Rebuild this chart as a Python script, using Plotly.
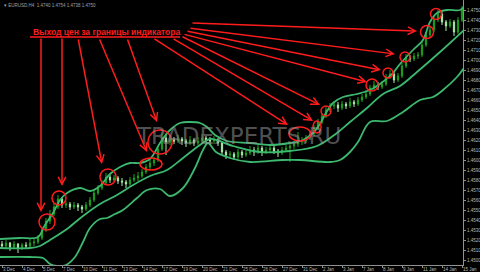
import plotly.graph_objects as go

# ---- candle data (H4 bars) ----
bars = list(range(116))
opens = [
    1.4516, 1.4514, 1.4517, 1.4513, 1.4516, 1.4512, 1.4515, 1.4514, 1.4517, 1.4518,
    1.4522, 1.4530, 1.4539, 1.4546, 1.4553, 1.4561, 1.4555, 1.4556, 1.4553, 1.4555,
    1.4553, 1.4551, 1.4555, 1.4560, 1.4567, 1.4572, 1.4577, 1.4583, 1.4580, 1.4582,
    1.4579, 1.4578, 1.4576, 1.4580, 1.4582, 1.4584, 1.4588, 1.4593, 1.4597, 1.4600,
    1.4611, 1.4622, 1.4618, 1.4620, 1.4619, 1.4621, 1.4619, 1.4617, 1.4620, 1.4617,
    1.4619, 1.4622, 1.4620, 1.4619, 1.4620, 1.4617, 1.4608, 1.4605, 1.4606, 1.4603,
    1.4608, 1.4605, 1.4607, 1.4610, 1.4608, 1.4612, 1.4608, 1.4610, 1.4612, 1.4609,
    1.4607, 1.4610, 1.4612, 1.4614, 1.4616, 1.4618, 1.4619, 1.4622, 1.4626, 1.4632,
    1.4638, 1.4644, 1.4650, 1.4654, 1.4655, 1.4652, 1.4656, 1.4654, 1.4658, 1.4656,
    1.4660, 1.4663, 1.4666, 1.4672, 1.4675, 1.4673, 1.4676, 1.4683, 1.4686, 1.4680,
    1.4684, 1.4694, 1.4702, 1.4701, 1.4704, 1.4705, 1.4715, 1.4725, 1.4730, 1.4740,
    1.4746, 1.4738, 1.4734, 1.4738, 1.4728, 1.4740]
highs = [
    1.4519, 1.4520, 1.4518, 1.4519, 1.4517, 1.4517, 1.4518, 1.4521, 1.4522, 1.4525,
    1.4533, 1.4542, 1.4550, 1.4557, 1.4565, 1.4563, 1.4559, 1.4558, 1.4558, 1.4557,
    1.4555, 1.4558, 1.4563, 1.4570, 1.4575, 1.4580, 1.4587, 1.4585, 1.4585, 1.4584,
    1.4582, 1.4580, 1.4583, 1.4586, 1.4588, 1.4591, 1.4596, 1.4600, 1.4603, 1.4614,
    1.4628, 1.4625, 1.4624, 1.4623, 1.4625, 1.4623, 1.4621, 1.4624, 1.4622, 1.4623,
    1.4626, 1.4624, 1.4623, 1.4624, 1.4622, 1.4619, 1.4610, 1.4609, 1.4608, 1.4611,
    1.4610, 1.4611, 1.4614, 1.4613, 1.4616, 1.4614, 1.4613, 1.4616, 1.4614, 1.4611,
    1.4613, 1.4615, 1.4617, 1.4619, 1.4628, 1.4623, 1.4625, 1.4629, 1.4635, 1.4641,
    1.4647, 1.4654, 1.4657, 1.4659, 1.4658, 1.4659, 1.4658, 1.4662, 1.4660, 1.4663,
    1.4666, 1.4670, 1.4675, 1.4679, 1.4678, 1.4679, 1.4686, 1.4690, 1.4688, 1.4687,
    1.4697, 1.4706, 1.4705, 1.4707, 1.4708, 1.4718, 1.4728, 1.4734, 1.4743, 1.4750,
    1.4748, 1.4740, 1.4741, 1.4740, 1.4743, 1.4754]
lows = [
    1.4511, 1.4512, 1.4509, 1.4511, 1.4507, 1.4510, 1.4511, 1.4512, 1.4514, 1.4516,
    1.4520, 1.4528, 1.4536, 1.4544, 1.4551, 1.4552, 1.4552, 1.4550, 1.4551, 1.4549,
    1.4547, 1.4549, 1.4553, 1.4558, 1.4565, 1.4570, 1.4575, 1.4577, 1.4578, 1.4576,
    1.4574, 1.4572, 1.4574, 1.4578, 1.4579, 1.4582, 1.4586, 1.4590, 1.4594, 1.4598,
    1.4609, 1.4605, 1.4615, 1.4616, 1.4617, 1.4615, 1.4613, 1.4615, 1.4614, 1.4615,
    1.4617, 1.4617, 1.4616, 1.4616, 1.4614, 1.4605, 1.4601, 1.4602, 1.4600, 1.4601,
    1.4602, 1.4603, 1.4605, 1.4604, 1.4606, 1.4604, 1.4606, 1.4608, 1.4606, 1.4603,
    1.4605, 1.4608, 1.4598, 1.4611, 1.4613, 1.4615, 1.4617, 1.4620, 1.4624, 1.4630,
    1.4636, 1.4642, 1.4648, 1.4651, 1.4648, 1.4650, 1.4651, 1.4652, 1.4653, 1.4654,
    1.4658, 1.4661, 1.4664, 1.4670, 1.4670, 1.4671, 1.4674, 1.4681, 1.4677, 1.4678,
    1.4682, 1.4692, 1.4698, 1.4699, 1.4701, 1.4703, 1.4713, 1.4722, 1.4728, 1.4738,
    1.4735, 1.4729, 1.4732, 1.4724, 1.4726, 1.4738]
closes = [
    1.4514, 1.4517, 1.4513, 1.4516, 1.4512, 1.4515, 1.4514, 1.4517, 1.4518, 1.4522,
    1.4530, 1.4539, 1.4546, 1.4553, 1.4561, 1.4555, 1.4556, 1.4553, 1.4555, 1.4553,
    1.4551, 1.4555, 1.4560, 1.4567, 1.4572, 1.4577, 1.4583, 1.4580, 1.4582, 1.4579,
    1.4578, 1.4576, 1.4580, 1.4582, 1.4584, 1.4588, 1.4593, 1.4597, 1.4600, 1.4611,
    1.4622, 1.4618, 1.4620, 1.4619, 1.4621, 1.4619, 1.4617, 1.4620, 1.4617, 1.4619,
    1.4622, 1.4620, 1.4619, 1.4620, 1.4617, 1.4608, 1.4605, 1.4606, 1.4603, 1.4608,
    1.4605, 1.4607, 1.4610, 1.4608, 1.4612, 1.4608, 1.4610, 1.4612, 1.4609, 1.4607,
    1.4610, 1.4612, 1.4614, 1.4616, 1.4618, 1.4619, 1.4622, 1.4626, 1.4632, 1.4638,
    1.4644, 1.4650, 1.4654, 1.4655, 1.4652, 1.4656, 1.4654, 1.4658, 1.4656, 1.4660,
    1.4663, 1.4666, 1.4672, 1.4675, 1.4673, 1.4676, 1.4683, 1.4686, 1.4680, 1.4684,
    1.4694, 1.4702, 1.4701, 1.4704, 1.4705, 1.4715, 1.4725, 1.4730, 1.4740, 1.4746,
    1.4738, 1.4734, 1.4738, 1.4728, 1.4740, 1.4750]

# ---- indicator band lines (bar position, price) ----
upper_x = [-0.5, 4.5, 9, 10.75, 12.75, 14.5, 16.25, 19.5, 22, 24.5,
           27, 29.5, 32, 34.5, 37, 39.5, 42, 44.5, 47, 49.5,
           51.25, 53.25, 56.25, 62, 67, 72, 75.25, 77.75, 79.5, 81,
           82.75, 85.25, 88.75, 92, 94.5, 97.75, 99.5, 102.75, 105.25, 107,
           108.75, 111.25, 114.5, 115.5]
upper_y = [1.4521, 1.4522, 1.4523, 1.4535, 1.4547, 1.4560, 1.4567, 1.4572, 1.4569, 1.4574,
           1.4586, 1.4593, 1.4597, 1.4597, 1.4601, 1.4617, 1.4630, 1.4637, 1.4638, 1.4637,
           1.4633, 1.4625, 1.4619, 1.4617, 1.4615, 1.4617, 1.4620, 1.4627, 1.4636, 1.4647,
           1.4657, 1.4663, 1.4666, 1.4670, 1.4676, 1.4687, 1.4696, 1.4710, 1.4720, 1.4738,
           1.4747, 1.4750, 1.4750, 1.4753]
middle_x = [-0.5, 7, 9.5, 12, 16.25, 20.25, 24.5, 28.75, 32.75, 37,
            41.25, 45.25, 49.5, 52, 57.75, 64.5, 72, 78.75, 83.75, 87,
            91.25, 95.25, 99.5, 103.75, 109.5, 115.5]
middle_y = [1.4512, 1.4512, 1.4514, 1.4520, 1.4531, 1.4544, 1.4556, 1.4565, 1.4575, 1.4584,
            1.4590, 1.4602, 1.4615, 1.4621, 1.4614, 1.4608, 1.4609, 1.4614, 1.4627, 1.4638,
            1.4652, 1.4666, 1.4674, 1.4688, 1.4708, 1.4730]
lower_x = [-0.5, 7, 10.25, 12, 14, 16, 18.25, 20.25, 22, 24.5,
           26.25, 28.25, 30.25, 33.75, 36.25, 39.5, 42, 45.25, 48.25, 50.25,
           51.5, 53.5, 57, 62, 70.25, 74.5, 82, 84.5, 87, 89,
           92, 96.25, 100.25, 104.5, 107.75, 110.25, 113.75, 115.5]
lower_y = [1.4503, 1.4503, 1.4502, 1.4496, 1.4494, 1.4495, 1.4503, 1.4518, 1.4532, 1.4541,
           1.4542, 1.4546, 1.4550, 1.4562, 1.4570, 1.4571, 1.4564, 1.4572, 1.4592, 1.4610,
           1.4617, 1.4608, 1.4602, 1.4598, 1.4600, 1.4600, 1.4598, 1.4600, 1.4608, 1.4618,
           1.4638, 1.4639, 1.4648, 1.4660, 1.4663, 1.4670, 1.4683, 1.4692]

# ---- axis labels ----
price_ticks = [1.4750, 1.4740, 1.4730, 1.4720, 1.4710, 1.4700, 1.4690, 1.4680, 1.4670,
               1.4660, 1.4650, 1.4640, 1.4630, 1.4620, 1.4610, 1.4600, 1.4590, 1.4580,
               1.4570, 1.4560, 1.4550, 1.4540, 1.4530, 1.4520, 1.4510, 1.4500]
date_labels = ["3 Dec", "4 Dec", "5 Dec", "7 Dec", "10 Dec",
               "11 Dec", "13 Dec", "14 Dec", "17 Dec", "19 Dec",
               "20 Dec", "21 Dec", "25 Dec", "26 Dec", "27 Dec",
               "31 Dec", "2 Jan", "3 Jan", "7 Jan", "8 Jan",
               "9 Jan", "11 Jan", "14 Jan", "15 Jan"]
date_bars = list(range(0, 116, 5))

# ---- annotation geometry (bar, price) ----
title_text = "Выход цен за границы индикатора"
arrows = [  # (start bar, start price, tip bar, tip price)
    (9.75, 1.4723, 9.75, 1.4548),
    (15.0, 1.4723, 15.0, 1.4574),
    (19.0, 1.4722, 25.0, 1.4596),
    (24.25, 1.4722, 36.25, 1.4608),
    (31.25, 1.4722, 38.75, 1.4638),
    (37.75, 1.4722, 71.5, 1.4635),
    (42.5, 1.4722, 77.75, 1.4639),
    (44.75, 1.4724, 79.5, 1.4655),
    (45.25, 1.4726, 91.25, 1.4678),
    (46.0, 1.4729, 94.75, 1.4690),
    (46.75, 1.4732, 98.25, 1.4706),
    (47.25, 1.4737, 103.75, 1.4729),
]
circles = [  # (bar, price, rx px, ry px)
    (11.25, 1.4538, 8, 8), (14.25, 1.4562, 7, 7), (26.5, 1.4583, 8, 8),
    (37.25, 1.4596, 11, 6), (39.5, 1.4618, 12, 12), (74.5, 1.4626, 11, 7),
    (78.75, 1.4633, 4, 6), (81, 1.4649, 5, 5), (92.5, 1.4675, 6, 6),
    (96.5, 1.4687, 5, 5), (100.75, 1.4703, 5, 5), (106.25, 1.4728, 6.5, 6.5),
    (108.5, 1.4746, 5.5, 5.5),
]

PX_PER_BAR = 4.0
PRICE_PER_PX = 0.0001
RED = "#ff1c1c"
BAND = "#3cb96e"

fig = go.Figure()
fig.add_trace(go.Candlestick(
    x=bars, open=opens, high=highs, low=lows, close=closes,
    increasing=dict(line=dict(color="#1f9f1f", width=1), fillcolor="#1f9f1f"),
    decreasing=dict(line=dict(color="#a8e8a8", width=1), fillcolor="#eaffea"),
    whiskerwidth=0, showlegend=False, hoverinfo="skip"))
for bx, by in ((upper_x, upper_y), (middle_x, middle_y), (lower_x, lower_y)):
    fig.add_trace(go.Scatter(x=bx, y=by, mode="lines",
                             line=dict(color=BAND, width=1.8, shape="spline", smoothing=1),
                             showlegend=False, hoverinfo="skip"))

shapes = []
for cx, cy, rx, ry in circles:
    shapes.append(dict(type="circle", xref="x", yref="y",
                       x0=cx - rx / PX_PER_BAR, x1=cx + rx / PX_PER_BAR,
                       y0=cy - ry * PRICE_PER_PX, y1=cy + ry * PRICE_PER_PX,
                       line=dict(color=RED, width=1.5)))
shapes.append(dict(type="line", xref="x", yref="y", x0=7, x1=44.5, y0=1.4723, y1=1.4723,
                   line=dict(color=RED, width=1.5)))

annotations = []
annotations.append(dict(x=59, y=1.4624, xref="x", yref="y", text="TRADEXPERTS.RU",
                        showarrow=False,
                        font=dict(family="DejaVu Sans", size=23, color="rgba(150,150,150,0.55)")))
for sx, sy, tx, ty in arrows:
    annotations.append(dict(x=tx, y=ty, ax=sx, ay=sy, xref="x", yref="y",
                            axref="x", ayref="y", text="", showarrow=True,
                            arrowhead=5, arrowsize=1.0, arrowwidth=1.5, arrowcolor=RED))
annotations.append(dict(x=26, y=1.4728, xref="x", yref="y", text="<b>" + title_text + "</b>",
                        showarrow=False,
                        font=dict(family="Liberation Sans, Arial", size=8.5, color=RED)))
annotations.append(dict(x=0.004, y=0.998, xref="paper", yref="paper", xanchor="left",
                        yanchor="top", showarrow=False,
                        text="▾ EURUSD,H4  1.4740 1.4754 1.4738 1.4750",
                        font=dict(family="Liberation Sans, Arial", size=4.5, color="#a0a0a0")))

fig.update_layout(
    width=480, height=272,
    margin=dict(l=0, r=17, t=0, b=7, autoexpand=False),
    paper_bgcolor="black", plot_bgcolor="black",
    boxgap=0.55,
    shapes=shapes, annotations=annotations,
    xaxis=dict(range=[-0.5, 115.25], showgrid=False, zeroline=False,
               rangeslider=dict(visible=False), automargin=False,
               tickvals=date_bars, ticktext=date_labels, tickangle=0,
               ticks="outside", ticklen=2, tickcolor="#909090",
               ticklabelposition="outside right",
               tickfont=dict(family="Liberation Sans, Arial", size=4.5, color="#b8b8b8"),
               showline=True, linecolor="#909090", linewidth=1),
    yaxis=dict(range=[1.4495, 1.4760], side="right", showgrid=False, zeroline=False,
               automargin=False,
               tickvals=price_ticks, ticktext=["%.4f" % v for v in price_ticks],
               ticks="outside", ticklen=2, tickcolor="#909090",
               tickfont=dict(family="Liberation Sans, Arial", size=4.5, color="#b8b8b8"),
               showline=True, linecolor="#909090", linewidth=1),
)

fig.write_html("out.html")
